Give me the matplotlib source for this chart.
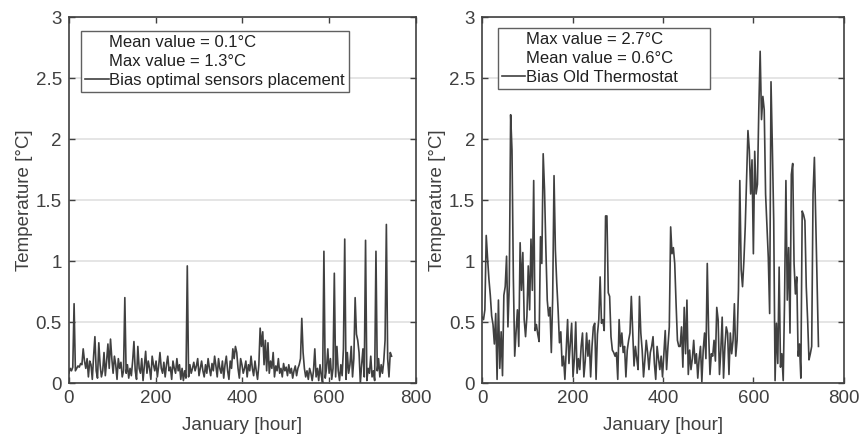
import numpy as np
import matplotlib
matplotlib.use("Agg")
import matplotlib.pyplot as plt
from matplotlib.lines import Line2D
from matplotlib.ticker import FormatStrFormatter

plt.rcParams['font.family'] = ['Liberation Sans', 'DejaVu Sans']

# hourly samples every 3 h over January
hours = np.arange(0, 745, 3)

bias_optimal = [
    0.08, 0.12, 0.10, 0.13, 0.65, 0.10, 0.12, 0.14, 0.13, 0.16,
    0.15, 0.28, 0.18, 0.12, 0.20, 0.05, 0.18, 0.15, 0.03, 0.22,
    0.38, 0.10, 0.04, 0.33, 0.15, 0.05, 0.10, 0.25, 0.06, 0.18,
    0.32, 0.12, 0.36, 0.20, 0.08, 0.22, 0.15, 0.03, 0.20, 0.12,
    0.17, 0.05, 0.10, 0.70, 0.08, 0.15, 0.04, 0.12, 0.06, 0.18,
    0.34, 0.10, 0.03, 0.30, 0.12, 0.08, 0.20, 0.02, 0.14, 0.26,
    0.08, 0.18, 0.12, 0.03, 0.22, 0.15, 0.10, 0.18, 0.05, 0.14,
    0.25, 0.12, 0.08, 0.17, 0.05, 0.15, 0.22, 0.10, 0.13, 0.03,
    0.18, 0.12, 0.08, 0.20, 0.10, 0.15, 0.03, 0.12, 0.02, 0.10,
    0.04, 0.96, 0.05, 0.15, 0.08, 0.12, 0.17, 0.10, 0.14, 0.20,
    0.06, 0.12, 0.18, 0.10, 0.05, 0.15, 0.08, 0.20, 0.12, 0.06,
    0.16, 0.10, 0.22, 0.14, 0.05, 0.20, 0.12, 0.08, 0.18, 0.04,
    0.15, 0.22, 0.10, 0.03, 0.18, 0.12, 0.28, 0.20, 0.30, 0.25,
    0.12, 0.04, 0.20, 0.15, 0.08, 0.12, 0.18, 0.05, 0.15, 0.10,
    0.22, 0.12, 0.06, 0.18, 0.10, 0.03, 0.15, 0.45, 0.30, 0.42,
    0.15, 0.35, 0.10, 0.33, 0.08, 0.18, 0.12, 0.25, 0.05, 0.14,
    0.10, 0.20, 0.08, 0.12, 0.05, 0.16, 0.10, 0.13, 0.06, 0.15,
    0.08, 0.12, 0.04, 0.10, 0.14, 0.06, 0.12, 0.15, 0.20, 0.53,
    0.25, 0.12, 0.05, 0.10, 0.03, 0.12, 0.08, 0.02, 0.10, 0.28,
    0.05, 0.12, 0.02, 0.15, 0.06, 0.00, 1.08, 0.04, 0.12, 0.28,
    0.08, 0.20, 0.03, 0.12, 0.90, 0.05, 0.30, 0.10, 0.02, 0.15,
    0.06, 0.28, 1.18, 0.03, 0.25, 0.08, 0.15, 0.30, 0.05, 0.20,
    0.70, 0.40, 0.35, 0.25, 0.00, 0.15, 0.28, 0.05, 1.17, 0.02,
    0.12, 0.08, 0.22, 0.05, 0.10, 0.02, 1.08, 0.10, 0.20, 0.05,
    0.15, 0.08, 0.18, 0.35, 1.30, 0.20, 0.05, 0.25, 0.22,
]

bias_old = [
    0.54, 0.52, 0.60, 1.21, 1.02, 0.85, 0.72, 0.55, 0.48, 0.32,
    0.57, 0.03, 0.68, 0.12, 0.42, 0.06, 0.72, 0.79, 1.04, 0.46,
    0.80, 2.20, 1.91, 0.86, 0.22, 0.42, 0.60, 0.30, 1.15, 0.76,
    1.07, 0.52, 0.38, 0.55, 0.96, 0.60, 1.18, 0.76, 1.66, 0.43,
    0.48, 0.40, 0.34, 1.20, 0.98, 1.88, 1.58, 1.09, 0.68, 0.55,
    0.62, 0.25, 0.70, 1.70, 1.09, 0.82, 0.60, 0.33, 0.42, 0.14,
    0.22, 0.03, 0.27, 0.52, 0.16, 0.33, 0.49, 0.05, 0.20, 0.50,
    0.08, 0.20, 0.11, 0.30, 0.41, 0.05, 0.18, 0.41, 0.22, 0.35,
    0.05, 0.30, 0.46, 0.49, 0.03, 0.40, 0.52, 0.87, 0.49, 0.52,
    0.43, 1.37, 1.37, 0.74, 0.71, 0.38, 0.27, 0.25, 0.22, 0.25,
    0.03, 0.52, 0.30, 0.41, 0.25, 0.30, 0.05, 0.27, 0.35, 0.41,
    0.71, 0.43, 0.14, 0.30, 0.20, 0.11, 0.71, 0.41, 0.27, 0.05,
    0.19, 0.35, 0.25, 0.11, 0.25, 0.30, 0.38, 0.16, 0.03, 0.30,
    0.20, 0.11, 0.22, 0.05, 0.24, 0.43, 0.11, 0.30, 0.46, 1.28,
    1.06, 1.11, 0.98, 0.65, 0.35, 0.30, 0.30, 0.46, 0.13, 0.62,
    0.24, 0.68, 0.07, 0.27, 0.11, 0.20, 0.35, 0.16, 0.24, 0.04,
    0.20, 0.30, 0.01, 0.27, 0.41, 0.20, 0.98, 0.41, 0.07, 0.24,
    0.22, 0.35, 0.18, 0.62, 0.52, 0.07, 0.27, 0.54, 0.04, 0.30,
    0.46, 0.41, 0.07, 0.41, 0.24, 0.35, 0.65, 0.22, 0.35, 0.76,
    1.66, 0.93, 0.79, 1.00, 1.28, 1.66, 2.07, 1.91, 1.55, 1.83,
    1.06, 1.90, 1.55, 1.63, 2.24, 2.72, 2.16, 2.35, 2.24, 1.55,
    1.28, 1.03, 0.57, 2.47, 1.93, 1.33, 0.02, 0.49, 0.16, 0.95,
    0.13, 0.24, 0.02, 0.68, 1.66, 0.68, 1.11, 0.41, 1.71, 1.80,
    0.98, 0.73, 0.87, 0.22, 0.32, 0.04, 1.41, 1.38, 1.33, 0.79,
    0.52, 0.19, 0.24, 0.30, 1.55, 1.85, 1.33, 0.79, 0.30,
]

labels_optimal = ["Mean value = 0.1°C", "Max value = 1.3°C",
                  "Bias optimal sensors placement"]
# trailing spaces widen the box like the original legend
labels_old = ["Max value = 2.7°C", "Mean value = 0.6°C",
              "Bias Old Thermostat      "]

line_color = "#404040"
axis_color = "#404040"


def style_axes(ax):
    ax.set_xlim(0, 800)
    ax.set_ylim(0, 3)
    ax.set_xticks([0, 200, 400, 600, 800])
    ax.set_yticks([0, 0.5, 1, 1.5, 2, 2.5, 3])
    ax.yaxis.set_major_formatter(FormatStrFormatter('%g'))
    ax.grid(axis='y', color='#e0e0e0', linewidth=1.2)
    ax.set_axisbelow(True)
    ax.tick_params(direction='in', top=True, right=True, length=4,
                   width=1, colors=axis_color, labelsize=13.5, pad=5)
    for s in ax.spines.values():
        s.set_color(axis_color)
        s.set_linewidth(1.2)
    ax.set_xlabel('January [hour]', fontsize=13.5, color=axis_color, labelpad=7)
    ax.set_ylabel('Temperature [°C]', fontsize=13.5, color=axis_color, labelpad=2)


def add_legend(ax, labels, anchor):
    handles = [Line2D([], [], color='none'), Line2D([], [], color='none'),
               Line2D([], [], color=line_color, linewidth=1.2)]
    leg = ax.legend(handles, labels, loc='upper left', bbox_to_anchor=anchor,
                    fontsize=12, frameon=True, fancybox=False, framealpha=1,
                    edgecolor='#606060', handlelength=1.4, handletextpad=0.05,
                    borderpad=0.25, labelspacing=0.24, borderaxespad=0)
    leg.get_frame().set_linewidth(1.0)
    for t in leg.get_texts():
        t.set_color('#202020')


fig = plt.figure(figsize=(8.61, 4.34), dpi=100)
ax1 = fig.add_axes([0.080, 0.1175, 0.403, 0.843])
ax2 = fig.add_axes([0.560, 0.1175, 0.420, 0.843])

ax1.plot(hours, bias_optimal, color=line_color, linewidth=1.2)
ax2.plot(hours, bias_old, color=line_color, linewidth=1.2)

style_axes(ax1)
style_axes(ax2)
add_legend(ax1, labels_optimal, (0.035, 0.962))
add_legend(ax2, labels_old, (0.043, 0.970))

fig.savefig('out.png', dpi=100)
